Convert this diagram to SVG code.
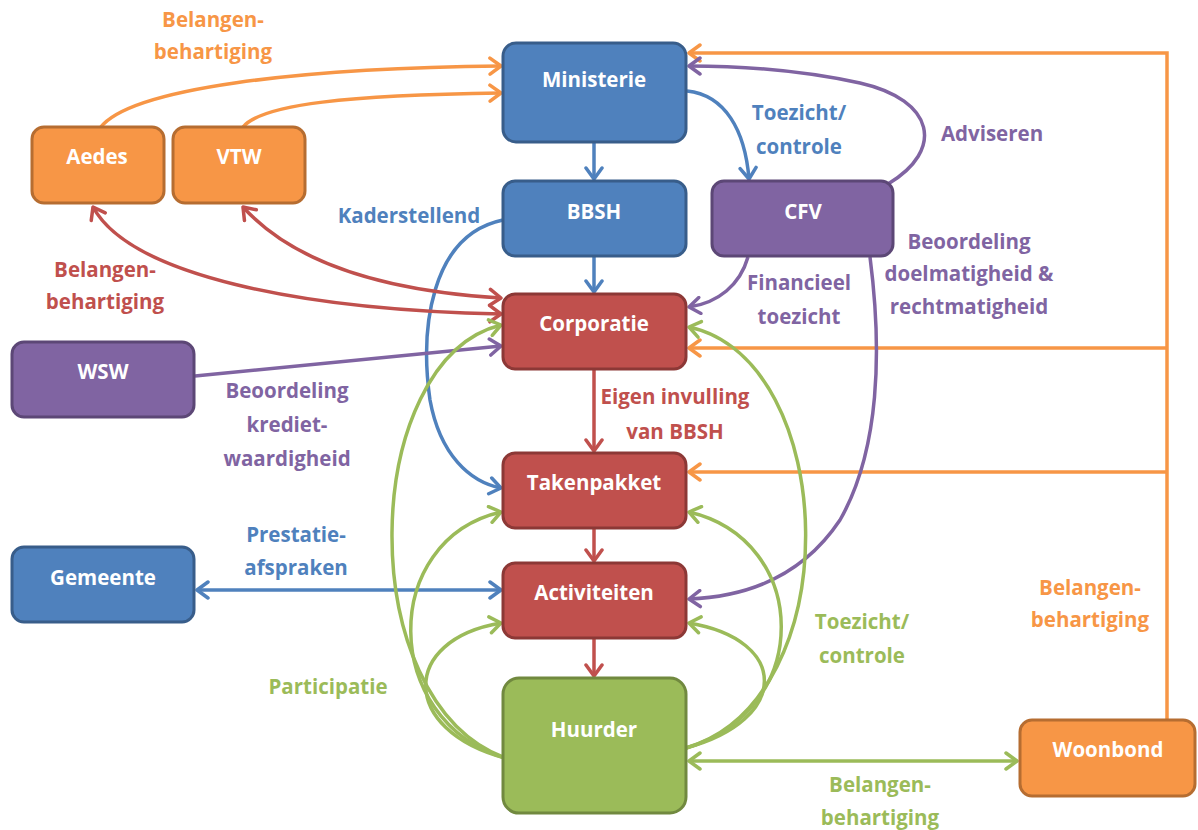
<svg xmlns="http://www.w3.org/2000/svg" width="1198" height="830" viewBox="0 0 1198 830">
<style>
.node rect{stroke-width:3}
.nt{font-family:"Open Sans","Liberation Sans",sans-serif;font-weight:bold;font-size:20.5px;fill:#fff;text-anchor:middle}
.lb{font-family:"Open Sans","Liberation Sans",sans-serif;font-weight:bold;font-size:20.5px;text-anchor:middle}
.c path{fill:none;stroke-width:3.5}
.bl{stroke:#4F81BD}.rd{stroke:#C0504D}.pu{stroke:#8064A2}.or{stroke:#F79646}.gr{stroke:#9BBB59}
</style>
<defs>
<marker id="aB" viewBox="-14 -10 16 20" markerWidth="16" markerHeight="20" refX="0" refY="0" orient="auto-start-reverse" markerUnits="userSpaceOnUse"><path d="M-11,-8 L0,0 L-11,8" fill="none" stroke="#4F81BD" stroke-width="3.5" stroke-linecap="round" stroke-linejoin="round"/></marker>
<marker id="aR" viewBox="-14 -10 16 20" markerWidth="16" markerHeight="20" refX="0" refY="0" orient="auto-start-reverse" markerUnits="userSpaceOnUse"><path d="M-11,-8 L0,0 L-11,8" fill="none" stroke="#C0504D" stroke-width="3.5" stroke-linecap="round" stroke-linejoin="round"/></marker>
<marker id="aP" viewBox="-14 -10 16 20" markerWidth="16" markerHeight="20" refX="0" refY="0" orient="auto-start-reverse" markerUnits="userSpaceOnUse"><path d="M-11,-8 L0,0 L-11,8" fill="none" stroke="#8064A2" stroke-width="3.5" stroke-linecap="round" stroke-linejoin="round"/></marker>
<marker id="aO" viewBox="-14 -10 16 20" markerWidth="16" markerHeight="20" refX="0" refY="0" orient="auto-start-reverse" markerUnits="userSpaceOnUse"><path d="M-11,-8 L0,0 L-11,8" fill="none" stroke="#F79646" stroke-width="3.5" stroke-linecap="round" stroke-linejoin="round"/></marker>
<marker id="aG" viewBox="-14 -10 16 20" markerWidth="16" markerHeight="20" refX="0" refY="0" orient="auto-start-reverse" markerUnits="userSpaceOnUse"><path d="M-11,-8 L0,0 L-11,8" fill="none" stroke="#9BBB59" stroke-width="3.5" stroke-linecap="round" stroke-linejoin="round"/></marker>
</defs>
<rect width="1198" height="830" fill="#fff"/>
<g id="connectors" class="c">
<path class="or" d="M100,128 C130,88 300,68 501,66" marker-end="url(#aO)"/>
<path class="or" d="M243,127 C262,104 350,95 501,93" marker-end="url(#aO)"/>
<path class="or" d="M1167,720 L1167,53 L689,53" marker-end="url(#aO)"/>
<path class="or" d="M1167,348 L689,348" marker-end="url(#aO)"/>
<path class="or" d="M1167,472 L689,472" marker-end="url(#aO)"/>
<path class="bl" d="M594,142 L594,179" marker-end="url(#aB)"/>
<path class="bl" d="M594,256 L594,292" marker-end="url(#aB)"/>
<path class="bl" d="M687,91 C725,95 745,130 749,179" marker-end="url(#aB)"/>
<path class="bl" d="M503,220 C430,235 420,330 430,400 C440,455 470,482 501,488" marker-end="url(#aB)"/>
<path class="bl" d="M197,590 L501,590" marker-start="url(#aB)" marker-end="url(#aB)"/>
<path class="pu" d="M888,184 C945,150 935,100 860,83 C800,70 740,66 689,66" marker-end="url(#aP)"/>
<path class="pu" d="M748,257 C740,285 718,303 689,307" marker-end="url(#aP)"/>
<path class="pu" d="M870,257 C882,350 880,450 840,520 C800,580 740,597 689,599" marker-end="url(#aP)"/>
<path class="pu" d="M195,376 L501,346" marker-end="url(#aP)"/>
<path class="rd" d="M93,207 C130,275 300,310 501,314" marker-start="url(#aR)" marker-end="url(#aR)"/>
<path class="rd" d="M243,207 C300,270 400,292 501,298" marker-start="url(#aR)" marker-end="url(#aR)"/>
<path class="rd" d="M594,369 L594,451" marker-end="url(#aR)"/>
<path class="rd" d="M594,528 L594,561" marker-end="url(#aR)"/>
<path class="rd" d="M594,638 L594,676" marker-end="url(#aR)"/>
<path class="gr" d="M505,758 C350,700 360,360 501,325" marker-end="url(#aG)"/>
<path class="gr" d="M505,758 C380,720 380,540 501,512" marker-end="url(#aG)"/>
<path class="gr" d="M505,758 C400,730 400,640 501,623" marker-end="url(#aG)"/>
<path class="gr" d="M686,748 C850,700 840,360 689,327" marker-end="url(#aG)"/>
<path class="gr" d="M686,748 C815,710 810,540 689,512" marker-end="url(#aG)"/>
<path class="gr" d="M686,748 C790,720 790,640 689,623" marker-end="url(#aG)"/>
<path class="gr" d="M689,761 L1017,761" marker-start="url(#aG)" marker-end="url(#aG)"/>
</g>
<g id="labels">
<text class="lb" fill="#F79646" x="213" y="27">Belangen-</text>
<text class="lb" fill="#F79646" x="213" y="59">behartiging</text>
<text class="lb" fill="#4F81BD" x="799" y="120">Toezicht/</text>
<text class="lb" fill="#4F81BD" x="799" y="154">controle</text>
<text class="lb" fill="#8064A2" x="992" y="141">Adviseren</text>
<text class="lb" fill="#4F81BD" x="409" y="223">Kaderstellend</text>
<text class="lb" fill="#8064A2" x="969" y="249">Beoordeling</text>
<text class="lb" fill="#8064A2" x="969" y="281">doelmatigheid &amp;</text>
<text class="lb" fill="#8064A2" x="969" y="314">rechtmatigheid</text>
<text class="lb" fill="#8064A2" x="799" y="290">Financieel</text>
<text class="lb" fill="#8064A2" x="799" y="324">toezicht</text>
<text class="lb" fill="#C0504D" x="105" y="277">Belangen-</text>
<text class="lb" fill="#C0504D" x="105" y="309">behartiging</text>
<text class="lb" fill="#8064A2" x="287" y="398">Beoordeling</text>
<text class="lb" fill="#8064A2" x="287" y="432">krediet-</text>
<text class="lb" fill="#8064A2" x="287" y="466">waardigheid</text>
<text class="lb" fill="#C0504D" x="675" y="404">Eigen invulling</text>
<text class="lb" fill="#C0504D" x="675" y="439">van BBSH</text>
<text class="lb" fill="#4F81BD" x="296" y="542">Prestatie-</text>
<text class="lb" fill="#4F81BD" x="296" y="575">afspraken</text>
<text class="lb" fill="#9BBB59" x="328" y="694">Participatie</text>
<text class="lb" fill="#9BBB59" x="862" y="629">Toezicht/</text>
<text class="lb" fill="#9BBB59" x="862" y="663">controle</text>
<text class="lb" fill="#F79646" x="1090" y="595">Belangen-</text>
<text class="lb" fill="#F79646" x="1090" y="627">behartiging</text>
<text class="lb" fill="#9BBB59" x="880" y="792">Belangen-</text>
<text class="lb" fill="#9BBB59" x="880" y="825">behartiging</text>
</g>
<g id="ministerie" class="node"><rect x="503" y="43" width="183" height="99" rx="13" fill="#4F81BD" stroke="#385D8A"/><text class="nt" x="594" y="87">Ministerie</text></g>
<g id="bbsh" class="node"><rect x="503" y="181" width="183" height="75" rx="12" fill="#4F81BD" stroke="#385D8A"/><text class="nt" x="594" y="219">BBSH</text></g>
<g id="cfv" class="node"><rect x="712" y="181" width="181" height="75" rx="12" fill="#8064A2" stroke="#5C4776"/><text class="nt" x="803" y="219">CFV</text></g>
<g id="aedes" class="node"><rect x="32" y="127" width="132" height="76" rx="12" fill="#F79646" stroke="#B66D31"/><text class="nt" x="97" y="164">Aedes</text></g>
<g id="vtw" class="node"><rect x="173" y="127" width="132" height="76" rx="12" fill="#F79646" stroke="#B66D31"/><text class="nt" x="239" y="164">VTW</text></g>
<g id="corporatie" class="node"><rect x="503" y="294" width="183" height="75" rx="12" fill="#C0504D" stroke="#8C3836"/><text class="nt" x="594" y="331">Corporatie</text></g>
<g id="wsw" class="node"><rect x="12" y="342" width="182" height="75" rx="12" fill="#8064A2" stroke="#5C4776"/><text class="nt" x="103" y="379">WSW</text></g>
<g id="takenpakket" class="node"><rect x="503" y="453" width="183" height="75" rx="12" fill="#C0504D" stroke="#8C3836"/><text class="nt" x="594" y="490">Takenpakket</text></g>
<g id="gemeente" class="node"><rect x="12" y="547" width="182" height="75" rx="12" fill="#4F81BD" stroke="#385D8A"/><text class="nt" x="103" y="585">Gemeente</text></g>
<g id="activiteiten" class="node"><rect x="503" y="563" width="183" height="75" rx="12" fill="#C0504D" stroke="#8C3836"/><text class="nt" x="594" y="600">Activiteiten</text></g>
<g id="huurder" class="node"><rect x="503" y="678" width="183" height="135" rx="16" fill="#9BBB59" stroke="#71893F"/><text class="nt" x="594" y="737">Huurder</text></g>
<g id="woonbond" class="node"><rect x="1020" y="720" width="175" height="76" rx="12" fill="#F79646" stroke="#B66D31"/><text class="nt" x="1108" y="757">Woonbond</text></g>
</svg>
